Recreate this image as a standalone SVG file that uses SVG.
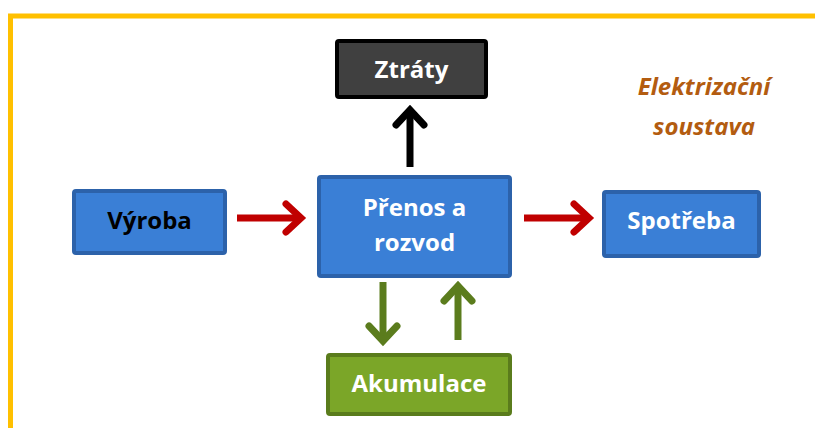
<svg xmlns="http://www.w3.org/2000/svg" width="815" height="428" viewBox="0 0 815 428">
<style>
.box{stroke-width:4;}
.blue{fill:#3a7fd6;stroke:#2c62aa;}
.lbl{font-family:"Open Sans","Liberation Sans",sans-serif;font-weight:bold;font-size:24px;text-anchor:middle;dominant-baseline:central;}
.w{fill:#ffffff;}
.k{fill:#000000;}
.arr{fill:none;stroke-width:7;stroke-linecap:butt;stroke-linejoin:round;}
.head{fill:none;stroke-width:7;stroke-linecap:round;stroke-linejoin:miter;}
</style>
<rect width="815" height="428" fill="#ffffff"/>
<path d="M10.5 428 V16 H815" fill="none" stroke="#ffc000" stroke-width="5"/>
<g id="connectors">
  <g stroke="#c00000">
    <path class="arr" d="M237 218 H300"/>
    <path class="head" d="M286 204 L301 218 L286 232"/>
    <path class="arr" d="M524 218 H588"/>
    <path class="head" d="M574 204 L589 218 L574 232"/>
  </g>
  <g stroke="#000000">
    <path class="arr" d="M410 167 V112"/>
    <path class="head" d="M396 125 L410 110 L424 125"/>
  </g>
  <g stroke="#5b7c1d">
    <path class="arr" d="M383 282 V339"/>
    <path class="head" d="M369 326 L383 341 L397 326"/>
    <path class="arr" d="M458 340 V288"/>
    <path class="head" d="M444 301 L458 286 L472 301"/>
  </g>
</g>
<g id="vyroba">
  <rect class="box blue" x="74" y="191" width="151" height="62" rx="2"/>
  <text class="lbl k" x="149.5" y="219">Výroba</text>
</g>
<g id="prenos">
  <rect class="box blue" x="319" y="177" width="191" height="99" rx="2"/>
  <text class="lbl w" x="414.5" y="206">Přenos a</text>
  <text class="lbl w" x="414.5" y="241">rozvod</text>
</g>
<g id="ztraty">
  <rect class="box" x="337" y="41" width="149" height="56" rx="2" fill="#404040" stroke="#000000"/>
  <text class="lbl w" x="411.5" y="68">Ztráty</text>
</g>
<g id="spotreba">
  <rect class="box blue" x="604" y="192" width="155" height="64" rx="2"/>
  <text class="lbl w" x="681.5" y="219">Spotřeba</text>
</g>
<g id="akumulace">
  <rect class="box" x="328" y="355" width="182" height="59" rx="2" fill="#7ba628" stroke="#5a7c1c"/>
  <text class="lbl w" x="419" y="382">Akumulace</text>
</g>
<g id="title">
  <text class="lbl" x="704" y="85" fill="#b35c10" font-style="italic">Elektrizační</text>
  <text class="lbl" x="704" y="125" fill="#b35c10" font-style="italic">soustava</text>
</g>
</svg>
